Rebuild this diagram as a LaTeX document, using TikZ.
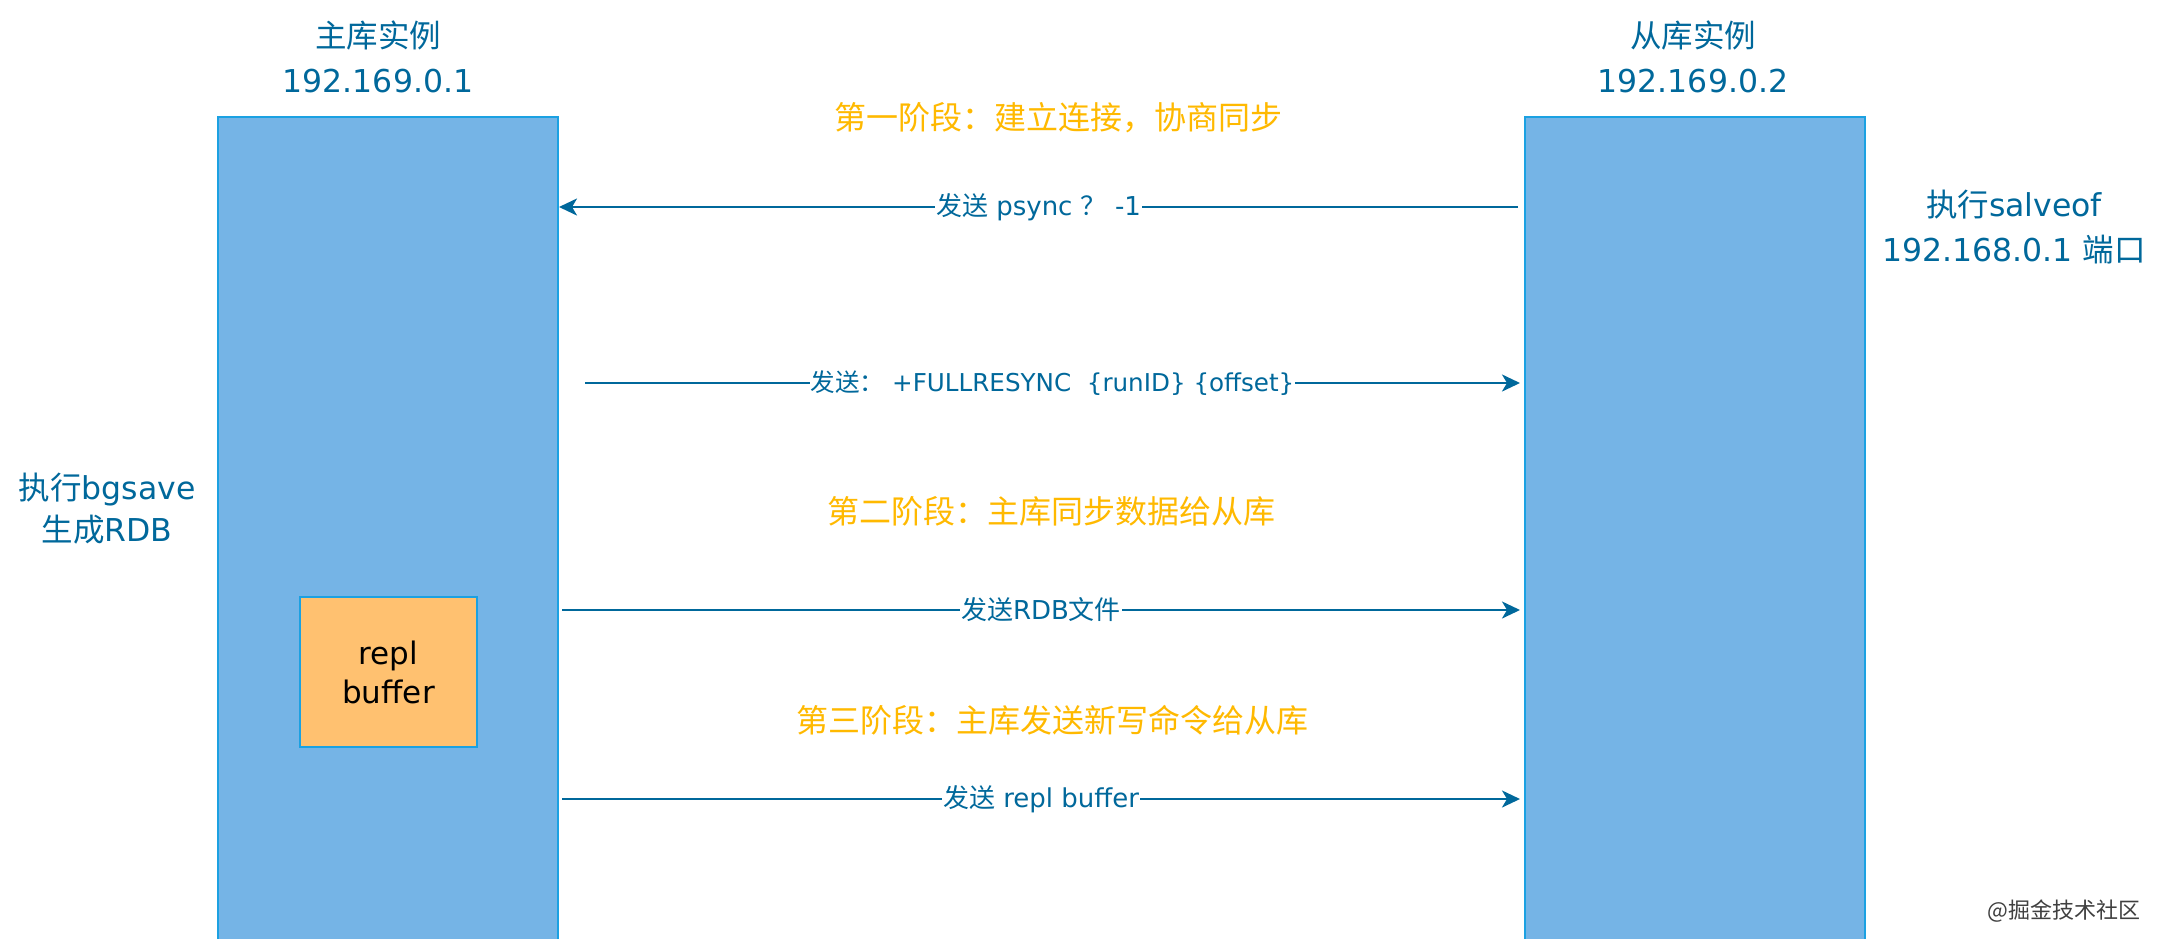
\documentclass[tikz,border=0pt]{standalone}
\usepackage{fontspec}
\setmainfont{DejaVu Sans}
\newfontfamily\cjkf{Noto Sans CJK SC}
\newcommand\zh[1]{{\cjkf #1}}
\usetikzlibrary{arrows.meta}
\definecolor{txtblue}{HTML}{00689B}
\definecolor{lanefill}{HTML}{75B4E6}
\definecolor{laneborder}{HTML}{1BA1E2}
\definecolor{phaseorange}{HTML}{FFB900}
\definecolor{replfill}{HTML}{FFC170}
\begin{document}
\begin{tikzpicture}[x=1pt,y=-1pt,
  lane/.style={draw=laneborder, fill=lanefill, line width=2pt, minimum width=340pt, minimum height=830pt, inner sep=0pt},
  lbl/.style={text=txtblue, font=\fontsize{31.5}{45}\selectfont, align=center, inner sep=0pt},
  phase/.style={text=phaseorange, font=\fontsize{32}{40}\selectfont\cjkf, inner sep=0pt},
  msg/.style={draw=txtblue, line width=2.4pt, -{Stealth[length=18pt,width=17pt,inset=5pt]}},
  msglbl/.style={fill=white, text=txtblue, font=\fontsize{26}{30}\selectfont, inner sep=1pt},
  replbox/.style={draw=laneborder, fill=replfill, line width=2pt, minimum width=177pt, minimum height=150pt, font=\fontsize{31}{39}\selectfont, align=center, text=black},
  wmark/.style={text=black!75, font=\fontsize{22}{24}\selectfont\cjkf, inner sep=0pt}
]
\useasboundingbox (0,0) rectangle (2160,938);
\clip (0,0) rectangle (2160,938);
\fill[white] (0,0) rectangle (2160,938);

\node[lane] (master) at (388,532) {};
\node[lane] (slave) at (1695,532) {};

\node[lbl] (mtitle) at (378,57) {\zh{主库实例}\\192.169.0.1};
\node[lbl] (stitle) at (1693,57) {\zh{从库实例}\\192.169.0.2};
\node[lbl] (snote) at (2014,227) {\zh{执行}salveof\\192.168.0.1 \zh{端口}};
\node[lbl, font=\fontsize{31.5}{42}\selectfont] (mnote) at (107,509) {\zh{执行}bgsave\\\zh{生成}RDB};

\node[replbox] (repl) at (388.5,672) {repl\\buffer};

\node[phase] (ph1) at (1058,118) {第一阶段：建立连接，协商同步};
\node[phase] (ph2) at (1051,511) {第二阶段：主库同步数据给从库};
\node[phase] (ph3) at (1052,720) {第三阶段：主库发送新写命令给从库};

\coordinate (m1) at (1518,207);
\coordinate (m2) at (585,383);
\coordinate (m3) at (562,610);
\coordinate (m4) at (562,799);

\draw[msg] (m1) -- (master.east |- m1) node[msglbl, midway] {\zh{发送} psync \zh{？} -1};
\draw[msg] (m2) -- ([xshift=-4pt]slave.west |- m2) node[msglbl, midway, font=\fontsize{24.6}{30}\selectfont] {\zh{发送：}\ +FULLRESYNC\ \ \{runID\} \{offset\}};
\draw[msg] (m3) -- ([xshift=-4pt]slave.west |- m3) node[msglbl, midway] {\zh{发送}RDB\zh{文件}};
\draw[msg] (m4) -- ([xshift=-4pt]slave.west |- m4) node[msglbl, midway] {\zh{发送} repl buffer};

\node[wmark] (wm) at (2064,911) {@掘金技术社区};
\end{tikzpicture}
\end{document}
